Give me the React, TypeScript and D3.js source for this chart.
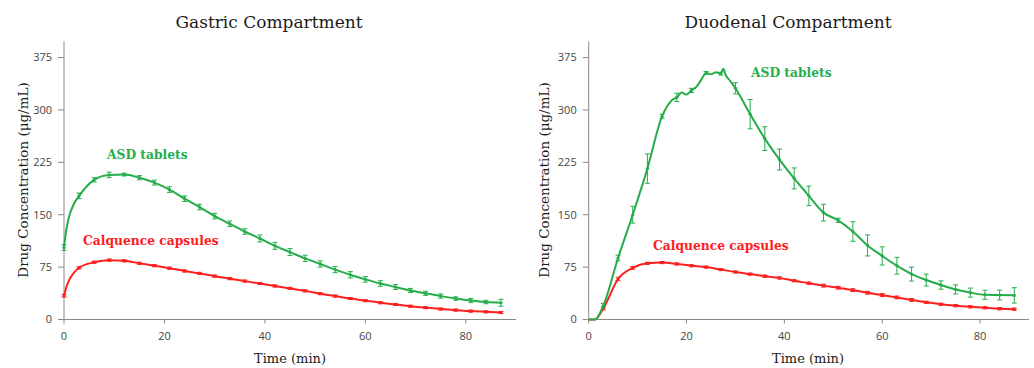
import React from "react";
import * as d3 from "d3";

// ---------- data ----------
const yTickValues = [0, 75, 150, 225, 300, 375];
const xTickValues = [0, 20, 40, 60, 80];

const panelTitles = ["Gastric Compartment", "Duodenal Compartment"];
const seriesNames = ["ASD tablets", "Calquence capsules"];

// Gastric compartment – ASD tablets
const gastricAsdTime = [0, 0.5, 1, 2, 3, 6, 9, 12, 15, 18, 21, 24, 27, 30, 33, 36, 39, 42, 45, 48, 51, 54, 57, 60, 63, 66, 69, 72, 75, 78, 81, 84, 87];
const gastricAsdValue = [103, 130, 147, 166, 177, 200, 207, 207.5, 203, 196, 186, 173, 161, 148, 137, 126, 116, 105.5, 96.5, 87.5, 79.5, 71.5, 64, 57.5, 51.5, 46.5, 41.5, 37.5, 33.6, 30, 27.2, 25, 24];
const gastricAsdErr = [4, null, null, null, 4, 3, 4, 2, 3, 3.5, 4, 4, 4, 4, 4, 4, 5, 5, 5, 4.5, 4.5, 4.5, 4.5, 4, 4, 3.5, 3, 3, 3, 2.5, 3, 2.5, 5];

// Gastric compartment – Calquence capsules
const gastricCalqTime = [0, 0.5, 1, 2, 3, 6, 9, 12, 15, 18, 21, 24, 27, 30, 33, 36, 39, 42, 45, 48, 51, 54, 57, 60, 63, 66, 69, 72, 75, 78, 81, 84, 87];
const gastricCalqValue = [34, 47, 56, 67, 74, 82, 85, 84, 80.5, 77, 73.5, 69.5, 66, 62, 58.5, 55, 51.5, 48, 44.5, 41, 37, 33.5, 30, 27, 24, 21.5, 19, 17, 15, 13.5, 12, 11, 10];
const gastricCalqErr = [2, null, null, null, 1.5, 1.5, 1.5, 1.5, 1.5, 1.5, 1.5, 1.5, 1.5, 1.5, 1.5, 1.5, 1.5, 1.5, 1.5, 1.5, 1.5, 1.5, 1.5, 1.5, 1.5, 1.5, 1.5, 1.5, 1.5, 1.5, 1.5, 1.5, 1.5];

// Duodenal compartment – ASD tablets
const duodAsdTime = [0, 1.3, 3, 6, 9, 12, 15, 16, 17, 18, 19, 20, 21, 22, 23, 24, 25, 26, 27, 27.5, 28, 29, 30, 33, 36, 39, 42, 45, 48, 51, 54, 57, 60, 63, 66, 69, 72, 75, 78, 81, 84, 87];
const duodAsdValue = [0, 0, 20, 88, 150, 216, 291, 305, 314, 318, 325, 322, 328, 333, 343, 353, 351, 354, 352, 359, 350, 341, 331, 294, 259, 229, 202, 177, 153, 142, 126, 106, 91, 77, 65, 56.5, 49.3, 43, 38.5, 35.4, 35, 34.5];
const duodAsdErr = [null, null, 3, 4, 12, 21, 3, null, null, 6, null, null, 3, null, null, 2, null, null, 2, null, null, null, 8, 21, 17, 15, 15, 14, 12, 3, 14, 15, 13, 12, 10, 8.5, 6, 6.5, 6.5, 6.5, 7, 11];

// Duodenal compartment – Calquence capsules
const duodCalqTime = [0, 1.3, 3, 6, 9, 12, 15, 18, 21, 24, 27, 30, 33, 36, 39, 42, 45, 48, 51, 54, 57, 60, 63, 66, 69, 72, 75, 78, 81, 84, 87];
const duodCalqValue = [0, 0, 16, 58, 74, 80.5, 81.5, 79.5, 77, 75, 71.5, 68, 65, 62, 59.5, 55.5, 52, 48.5, 45.5, 42, 38.3, 35, 31.6, 28, 24.6, 21.8, 19.8, 18.2, 16.8, 15.5, 14.8];
const duodCalqErr = [null, null, 2, 2.5, 2, 1.5, 1.5, 1.5, 1.5, 1.5, 1.5, 1.5, 1.5, 1.5, 1.5, 1.5, 1.5, 2, 2, 2, 2, 2, 2, 2, 1.5, 1.5, 1.5, 1.5, 1.5, 1.5, 1.5];

// ---------- styles ----------
const GREEN = "#25ad4a";
const RED = "#fd2020";
const AXIS = "#8a8a8a";
const SERIF = "'DejaVu Serif', serif";
const SANS = "'Open Sans', sans-serif";

type Series = { t: number[]; v: number[]; e: (number | null)[]; color: string };

type PanelProps = {
  title: string;
  xRange: [number, number];
  titleX: number;
  yLabelX: number;
  xLabelX: number;
  asd: Series;
  calq: Series;
  asdLabel: [number, number];
  calqLabel: [number, number];
};

function Panel(p: PanelProps) {
  const x = d3.scaleLinear().domain([0, 90]).range(p.xRange);
  const y = d3.scaleLinear().domain([0, 398]).range([319.5, 41.5]);
  const line = d3
    .line<[number, number]>()
    .x((d) => x(d[0]))
    .y((d) => y(d[1]))
    .curve(d3.curveMonotoneX);

  const renderSeries = (s: Series, key: string) => {
    const pts = s.t.map((t, i) => [t, s.v[i]] as [number, number]);
    return (
      <g key={key}>
        {s.t.map((t, i) => {
          const err = s.e[i];
          if (err == null) return null;
          const cx = x(t);
          return (
            <g key={i} stroke={s.color} strokeWidth={1}>
              <line x1={cx} x2={cx} y1={y(s.v[i] - err)} y2={y(s.v[i] + err)} />
              <line x1={cx - 2.5} x2={cx + 2.5} y1={y(s.v[i] - err)} y2={y(s.v[i] - err)} />
              <line x1={cx - 2.5} x2={cx + 2.5} y1={y(s.v[i] + err)} y2={y(s.v[i] + err)} />
            </g>
          );
        })}
        <path d={line(pts) || ""} fill="none" stroke={s.color} strokeWidth={2} />
        {s.t.map((t, i) =>
          s.e[i] == null ? null : (
            <circle key={"m" + i} cx={x(t)} cy={y(s.v[i])} r={1.6} fill={s.color} />
          )
        )}
      </g>
    );
  };

  const [x0, x1] = p.xRange;
  return (
    <g>
      <text x={p.titleX} y={28} textAnchor="middle" fontFamily={SERIF} fontSize={17} fill="#1a1a1a">
        {p.title}
      </text>
      {/* y axis */}
      <line x1={x0} x2={x0} y1={y(0)} y2={y(398)} stroke={AXIS} strokeWidth={1} />
      {yTickValues.map((v) => (
        <g key={v}>
          <line x1={x0 - 6} x2={x0} y1={y(v)} y2={y(v)} stroke={AXIS} strokeWidth={1} />
          <text x={x0 - 12} y={y(v)} dy="0.35em" textAnchor="end" fontFamily={SANS} fontSize={11} fill="#444">
            {v}
          </text>
        </g>
      ))}
      {/* x axis */}
      <line x1={x0} x2={x1} y1={y(0)} y2={y(0)} stroke={AXIS} strokeWidth={1} />
      {xTickValues.map((v) => (
        <g key={v}>
          <line x1={x(v)} x2={x(v)} y1={y(0)} y2={y(0) + 4} stroke={AXIS} strokeWidth={1} />
          <text x={x(v)} y={340} textAnchor="middle" fontFamily={SANS} fontSize={11} fill="#444">
            {v}
          </text>
        </g>
      ))}
      <text x={p.xLabelX} y={363} textAnchor="middle" fontFamily={SERIF} fontSize={13} fill="#1a1a1a">
        Time (min)
      </text>
      <text
        transform={`translate(${p.yLabelX},180) rotate(-90)`}
        textAnchor="middle"
        fontFamily={SERIF}
        fontSize={13.5}
        fill="#1a1a1a"
      >
        Drug Concentration (μg/mL)
      </text>
      {renderSeries(p.calq, "calq")}
      {renderSeries(p.asd, "asd")}
      <text x={p.asdLabel[0]} y={p.asdLabel[1]} fontFamily={SERIF} fontWeight="bold" fontSize={12.3} fill={GREEN}>
        {seriesNames[0]}
      </text>
      <text x={p.calqLabel[0]} y={p.calqLabel[1]} fontFamily={SERIF} fontWeight="bold" fontSize={12.3} fill={RED}>
        {seriesNames[1]}
      </text>
    </g>
  );
}

export default function App() {
  return (
    <svg
      width={1034}
      height={368}
      style={{ position: "absolute", left: 0, top: 0, background: "#fff" }}
    >
      <Panel
        title={panelTitles[0]}
        xRange={[64, 516]}
        titleX={269}
        yLabelX={28}
        xLabelX={290}
        asd={{ t: gastricAsdTime, v: gastricAsdValue, e: gastricAsdErr, color: GREEN }}
        calq={{ t: gastricCalqTime, v: gastricCalqValue, e: gastricCalqErr, color: RED }}
        asdLabel={[107, 159]}
        calqLabel={[83, 245]}
      />
      <Panel
        title={panelTitles[1]}
        xRange={[588.7, 1029]}
        titleX={788}
        yLabelX={549}
        xLabelX={808}
        asd={{ t: duodAsdTime, v: duodAsdValue, e: duodAsdErr, color: GREEN }}
        calq={{ t: duodCalqTime, v: duodCalqValue, e: duodCalqErr, color: RED }}
        asdLabel={[751, 77]}
        calqLabel={[653, 250]}
      />
    </svg>
  );
}
